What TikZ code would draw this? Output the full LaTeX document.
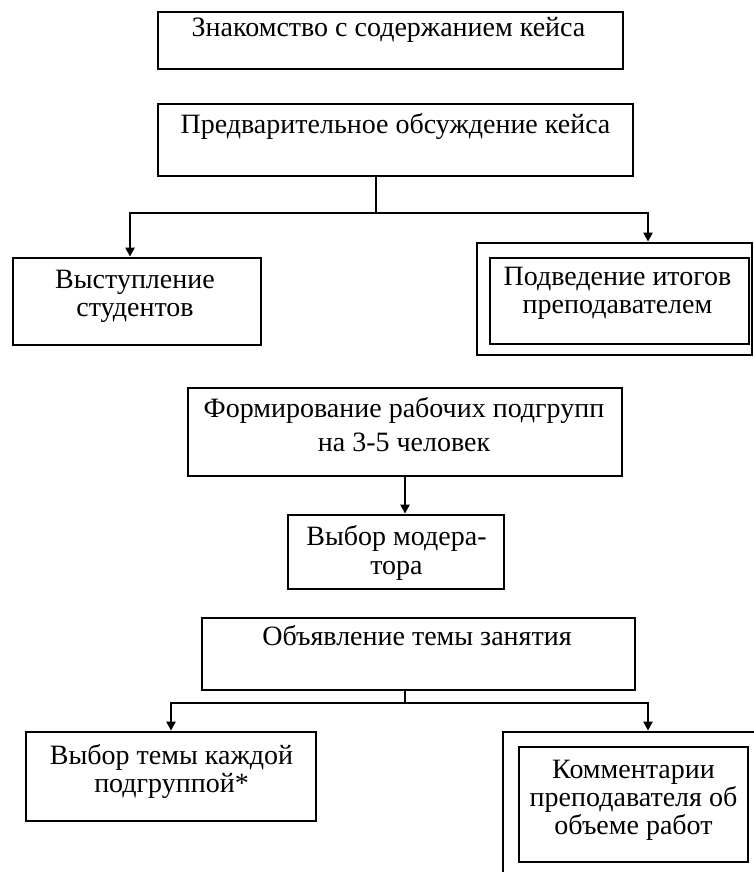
\documentclass[tikz,border=0pt]{standalone}
\usepackage{fontspec}
\setmainfont{Liberation Serif}
\usetikzlibrary{arrows.meta}

\tikzset{
  box/.style={draw, line width=2.8pt, inner sep=0pt},
  txt/.style={align=center, inner sep=0pt, font=\fontsize{28}{28}\selectfont},
  conn/.style={line width=2.8pt},
  arr/.style={conn, -{Triangle[width=9pt,length=9pt]}},
}

\begin{document}
\begin{tikzpicture}[x=1pt,y=1pt,yscale=-1,xscale=1]
\useasboundingbox (0,0) rectangle (754,872);
\clip (0,0) rectangle (754,872);

%Rectangles
\node[box, minimum width=465, minimum height=57] (znak) at (390.5,40.5) {};
\node[box, minimum width=475, minimum height=72] (pred) at (395.5,140) {};
\node[box, minimum width=248, minimum height=87] (vyst) at (137,301.5) {};
\node[box, minimum width=275, minimum height=112] (podout) at (614.5,299) {};
\node[box, minimum width=259, minimum height=86] (pod) at (619.5,301) {};
\node[box, minimum width=434, minimum height=88] (form) at (405,432) {};
\node[box, minimum width=216, minimum height=74] (moder) at (396,552) {};
\node[box, minimum width=433, minimum height=72] (obyav) at (418.5,654) {};
\node[box, minimum width=290, minimum height=89] (tema) at (171,776.5) {};
\node[box, minimum width=280, minimum height=180] (komout) at (643,822) {};
\node[box, minimum width=229, minimum height=115] (kom) at (633.5,804.5) {};

% Text Node
\node[txt] (t-znak) at (388.5,29.5) {Знакомство с содержанием кейса};
% Text Node
\node[txt] (t-pred) at (395.5,127) {Предварительное обсуждение кейса};
% Text Node
\node[txt] (t-vyst) at (135,296) {Выступление\\студентов};
% Text Node
\node[txt] (t-pod) at (617.5,293) {Подведение итогов\\преподавателем};
% Text Node
\node[txt] (t-form) at (404,425) {Формирование рабочих подгрупп\\[6pt]на 3-5 человек};
% Text Node
\node[txt] (t-moder) at (396.5,553) {Выбор модера-\\[1pt]тора};
% Text Node
\node[txt] (t-obyav) at (417,636) {Объявление темы занятия};
% Text Node
\node[txt] (t-tema) at (171.5,771) {Выбор темы каждой\\подгруппой*};
% Text Node
\node[txt] (t-kom) at (633.5,800) {Комментарии\\преподавателя об\\объеме работ};

%Connectors
\coordinate (j1) at (376,213);
\coordinate (l1) at (130,213);
\coordinate (r1) at (648,213);
\draw[conn] (j1 |- pred.south) -- (j1);
\draw[arr] (j1) -| (l1 |- vyst.north);
\draw[arr] (j1) -| (r1 |- podout.north);

\draw[arr] (form.south) -- (form.south |- moder.north);

\coordinate (j2) at (405,703);
\coordinate (l2) at (171,703);
\coordinate (r2) at (648,703);
\draw[conn] (j2 |- obyav.south) -- (j2);
\draw[arr] (j2) -| (l2 |- tema.north);
\draw[arr] (j2) -| (r2 |- komout.north);

\end{tikzpicture}
\end{document}
